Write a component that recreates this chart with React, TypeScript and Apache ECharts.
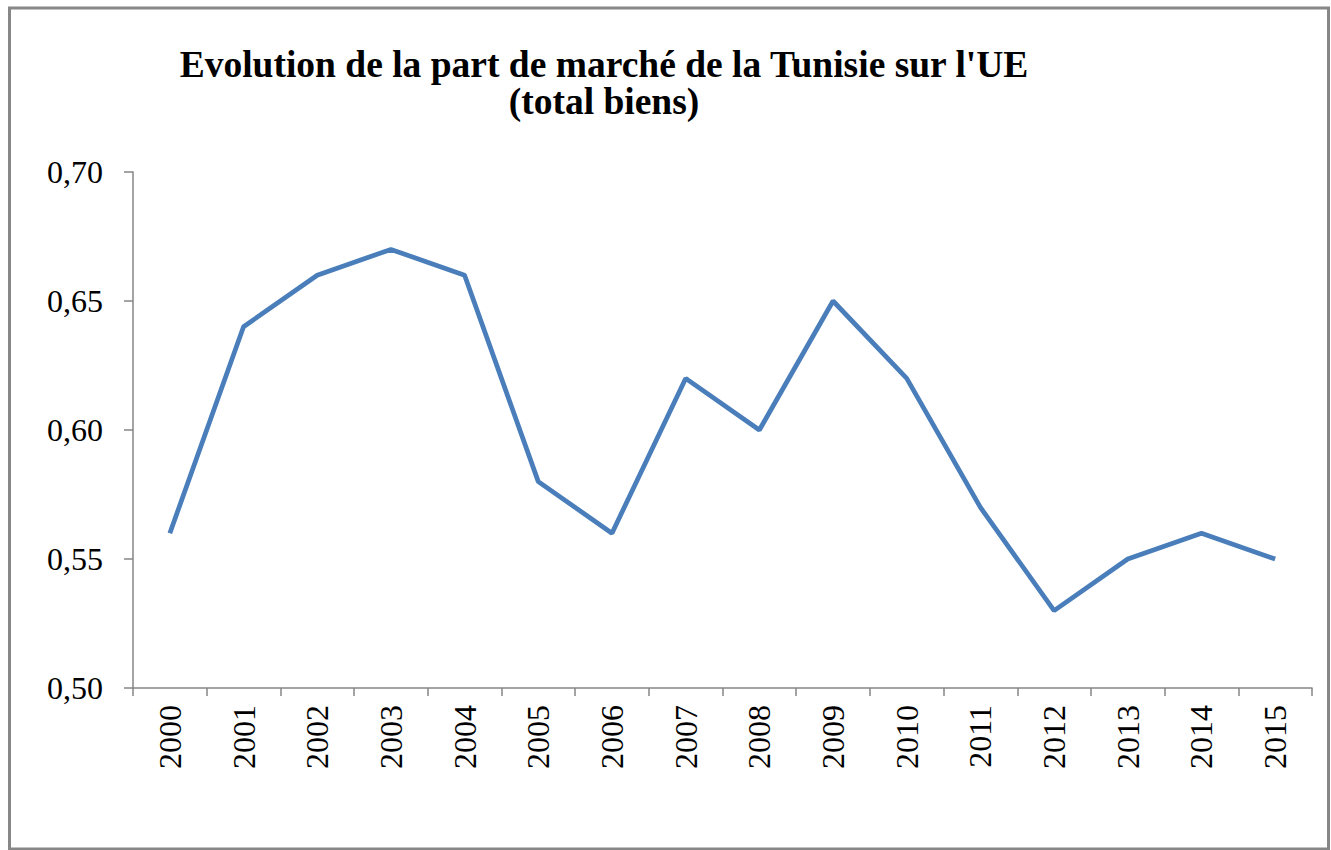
import React, { useEffect, useRef } from "react";
import * as echarts from "echarts";

const years = ["2000","2001","2002","2003","2004","2005","2006","2007","2008","2009","2010","2011","2012","2013","2014","2015"];
const share = [0.56, 0.64, 0.66, 0.67, 0.66, 0.58, 0.56, 0.62, 0.60, 0.65, 0.62, 0.57, 0.53, 0.55, 0.56, 0.55];
const titleText = "Evolution de la part de marché de la Tunisie sur l'UE\n(total biens)";

const FONT = '"Liberation Serif", "Times New Roman", serif';

export default function App() {
  const ref = useRef<HTMLDivElement>(null);
  useEffect(() => {
    if (!ref.current) return;
    const chart = echarts.init(ref.current, null, { renderer: "svg" });
    chart.setOption({
      animation: false,
      backgroundColor: "#ffffff",
      title: {
        text: titleText,
        left: 599,
        top: 41,
        textAlign: "center",
        textStyle: { fontFamily: FONT, fontSize: 37.5, fontWeight: "bold", color: "#000", lineHeight: 37 },
      },
      graphic: [
        {
          type: "rect",
          shape: { x: 9.5, y: 8, width: 1319, height: 841 },
          style: { fill: "none", stroke: "#878787", lineWidth: 3 },
          silent: true,
        },
      ],
      grid: { left: 133, right: 19, top: 172, bottom: 162, containLabel: false },
      xAxis: {
        type: "category",
        data: years,
        boundaryGap: true,
        axisLine: { lineStyle: { color: "#868686", width: 1.5 } },
        axisTick: { show: true, length: 8, lineStyle: { color: "#868686", width: 1.5 }, alignWithLabel: false },
        axisLabel: { rotate: 90, margin: 17, fontFamily: FONT, fontSize: 32, color: "#000" },
        splitLine: { show: false },
      },
      yAxis: {
        type: "value",
        min: 0.5,
        max: 0.7,
        interval: 0.05,
        axisLine: { show: true, lineStyle: { color: "#868686", width: 1.5 } },
        axisTick: { show: true, length: 9, lineStyle: { color: "#868686", width: 1.5 } },
        axisLabel: {
          margin: 30,
          fontFamily: FONT,
          fontSize: 32,
          color: "#000",
          formatter: (v: number) => v.toFixed(2).replace(".", ","),
        },
        splitLine: { show: false },
      },
      series: [
        {
          type: "line",
          data: share,
          symbol: "none",
          lineStyle: { color: "#4A7EBB", width: 4.75 },
          itemStyle: { color: "#4A7EBB" },
        },
      ],
    });
    return () => chart.dispose();
  }, []);
  return (
    <div
      ref={ref}
      style={{ position: "fixed", left: 0, top: 0, width: 1331, height: 850, background: "#fff" }}
    />
  );
}
